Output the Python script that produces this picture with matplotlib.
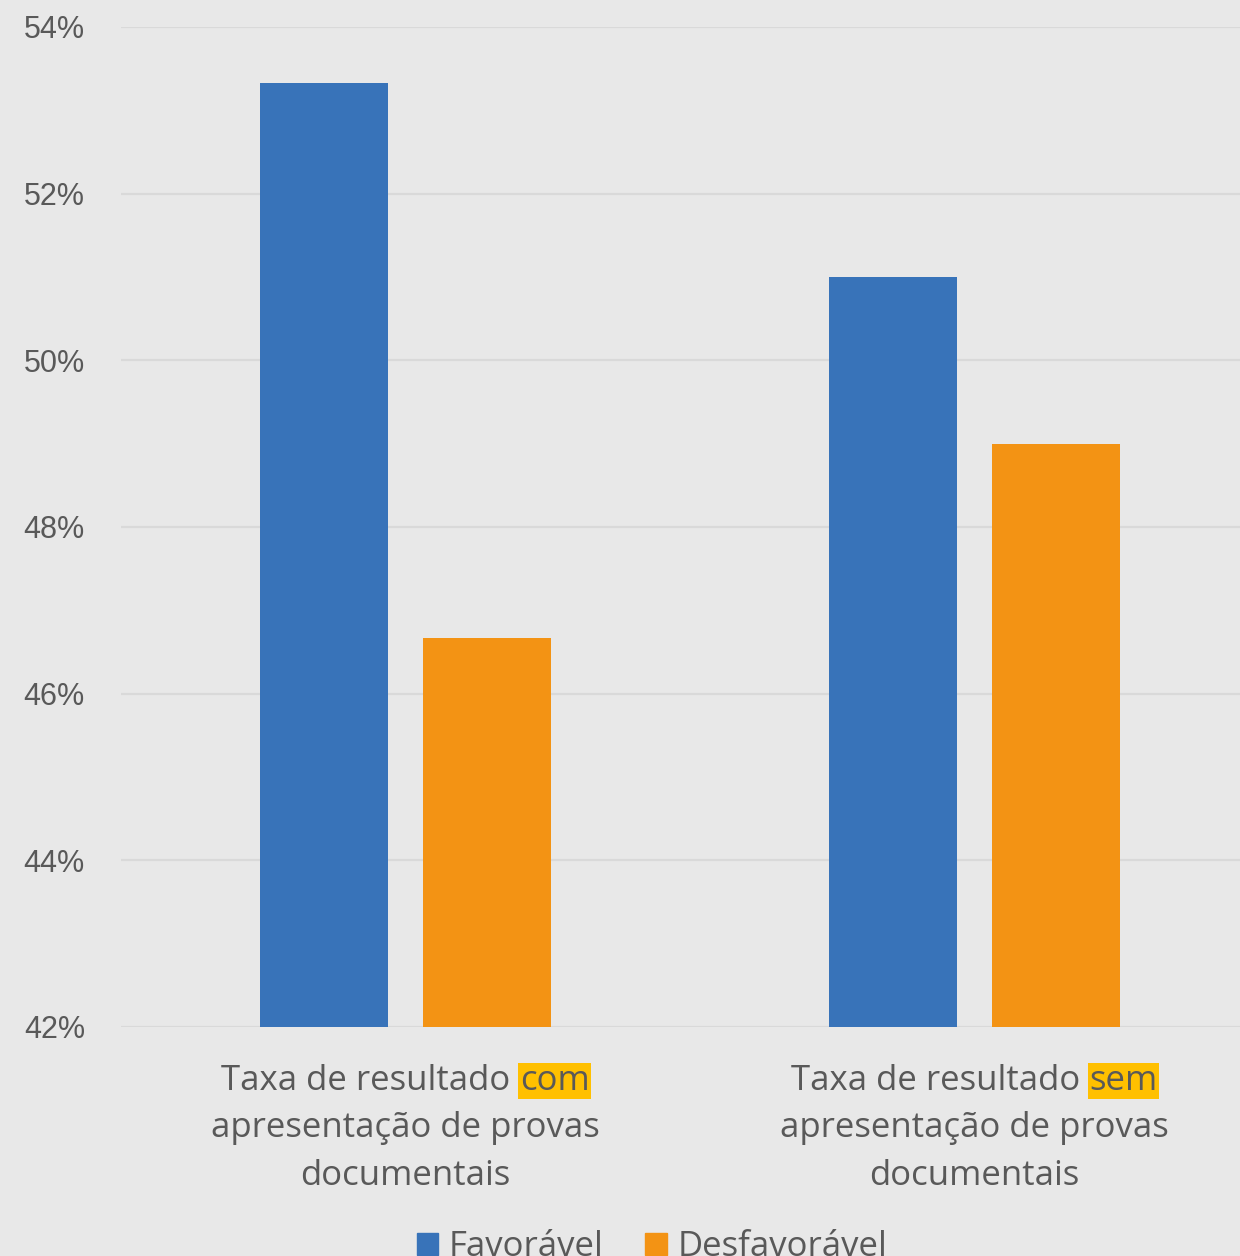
import numpy as np
import matplotlib
matplotlib.use("Agg")
import matplotlib.pyplot as plt
import matplotlib.transforms as mtransforms
from matplotlib.patches import Patch

# data
categorias = ["com", "sem"]
linha1 = "Taxa de resultado "
linha2 = "apresentação de provas"
linha3 = "documentais"
favoravel = [53.33, 51.0]
desfavoravel = [46.67, 49.0]
yticks = [42, 44, 46, 48, 50, 52, 54]
series = ["Favorável", "Desfavorável"]

azul = "#3873b9"
laranja = "#f39314"
fundo = "#e8e8e8"
cinza = "#595959"
amarelo = "#ffc000"
fonte_cat = "Open Sans"
fonte_tick = "Liberation Sans"
tam = 25

fig = plt.figure(figsize=(12.4, 12.56), dpi=100, facecolor=fundo)
ax = fig.add_axes([121 / 1240, 229 / 1256, 1138 / 1240, 1000 / 1256])
ax.set_facecolor(fundo)

x = np.arange(len(categorias))
w = 0.225
off = 0.1424
ax.bar(x - off, favoravel, w, color=azul, zorder=3)
ax.bar(x + off, desfavoravel, w, color=laranja, zorder=3)

ax.set_xlim(-0.5, 1.5)
ax.set_ylim(42, 54)
ax.set_yticks(yticks)
ax.set_yticklabels(["%d%%" % v for v in yticks], fontsize=22, color=cinza,
                   family=fonte_tick)
ax.tick_params(axis="y", length=0, pad=26)
ax.set_xticks([])
ax.grid(axis="y", color="#d9d9d9", lw=1.6, zorder=0)
for s in ax.spines.values():
    s.set_visible(False)

trans = mtransforms.blended_transform_factory(ax.transData, ax.transAxes)
fig.canvas.draw()
renderer = fig.canvas.get_renderer()
inv = ax.transData.inverted()
for i, cat in enumerate(categorias):
    # measure the whole first line, then draw prefix and highlighted word
    tmp = ax.text(x[i], -0.063, linha1 + cat, transform=trans, ha="center",
                  va="baseline", fontsize=tam, family=fonte_cat)
    bb = tmp.get_window_extent(renderer)
    tmp.remove()
    xl = inv.transform((bb.x0, 0))[0]
    xr = inv.transform((bb.x1, 0))[0]
    ax.text(xl, -0.063, linha1.strip(), transform=trans, ha="left",
            va="baseline", fontsize=tam, color=cinza, family=fonte_cat)
    ax.text(xr, -0.063, cat, transform=trans, ha="right", va="baseline",
            fontsize=tam, color=cinza, family=fonte_cat, zorder=5,
            bbox=dict(boxstyle="square,pad=0.04", fc=amarelo, ec="none"))
    ax.text(x[i], -0.110, linha2, transform=trans, ha="center",
            va="baseline", fontsize=tam, color=cinza, family=fonte_cat)
    ax.text(x[i], -0.158, linha3, transform=trans, ha="center",
            va="baseline", fontsize=tam, color=cinza, family=fonte_cat)

handles = [Patch(color=azul), Patch(color=laranja)]
leg = fig.legend(handles, series, loc="upper center", ncol=2, frameon=False,
                 bbox_to_anchor=(652 / 1240, 1 - 1213 / 1256),
                 prop={"family": fonte_cat, "size": tam},
                 handlelength=0.62, handleheight=0.62, handletextpad=0.3,
                 columnspacing=1.2, borderpad=0)
for t in leg.get_texts():
    t.set_color(cinza)

fig.savefig("out.png", dpi=100, facecolor=fundo)
